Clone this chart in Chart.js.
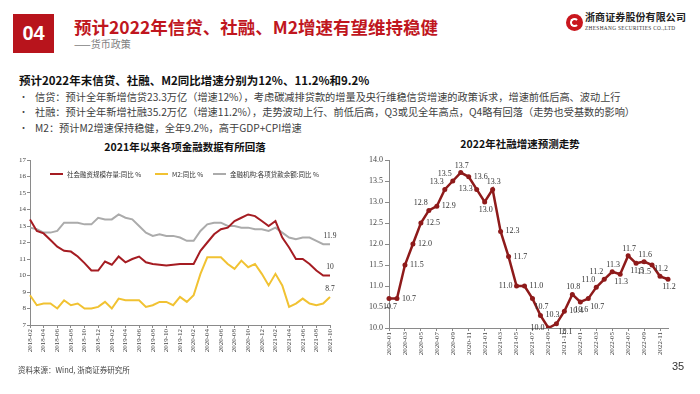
<!DOCTYPE html>
<html><head><meta charset="utf-8">
<script src="https://cdn.jsdelivr.net/npm/chart.js@4.4.0/dist/chart.umd.min.js"></script>
<style>
html,body{margin:0;padding:0;background:#fff;}
body{width:700px;height:394px;position:relative;overflow:hidden;font-family:"Noto Sans CJK SC","Noto Sans",sans-serif;}
.a{position:absolute;white-space:nowrap;}
#box{left:13px;top:14px;width:41px;height:39px;background:#b8141c;color:#fff;font:bold 20px "Liberation Sans",Arial,sans-serif;line-height:39px;text-align:center;}
#title{left:74px;top:16px;font-size:17.5px;font-weight:bold;line-height:22px;color:#c0161e;}
#sub{left:74px;top:38px;font-size:10px;line-height:12px;color:#808080;}
#logo{left:566px;top:14px;width:17px;height:17px;border-radius:50%;background:#c9171e;}
#logo i{position:absolute;left:4px;top:4px;width:5px;height:5px;border:2px solid #fff;border-radius:50%;border-right-color:transparent;}
#lt1{left:585px;top:10px;font-size:10px;font-weight:bold;line-height:14px;color:#222;letter-spacing:0.1px;}
#lt2{left:585px;top:25px;font-family:"Liberation Serif",serif;font-size:5.3px;line-height:6px;color:#333;letter-spacing:0.35px;}
#lead{left:19px;top:73px;font-size:11.5px;font-weight:bold;line-height:14px;color:#111;}
.bul{left:19px;font-size:9px;line-height:14px;color:#444;}
.bt{left:35px;font-size:10.2px;line-height:14px;color:#404040;}
.ct{width:200px;text-align:center;font-size:10.5px;font-weight:bold;line-height:14px;color:#111;}
#foot{left:18px;top:365px;font-size:7.5px;line-height:10px;color:#444;}
#pg{left:672px;top:359px;font:11px "Liberation Sans",Arial,sans-serif;line-height:14px;color:#333;}
canvas{position:absolute;}
</style></head><body>
<div class="a" id="box">04</div>
<div class="a" id="title">预计2022年信贷、社融、M2增速有望维持稳健</div>
<div class="a" id="sub">——货币政策</div>
<div class="a" id="logo"><i></i></div>
<div class="a" id="lt1">浙商证券股份有限公司</div>
<div class="a" id="lt2">ZHESHANG SECURITIES CO.,LTD</div>
<div class="a" id="lead">预计2022年末信贷、社融、M2同比增速分别为12%、11.2%和9.2%</div>
<div class="a bul" style="top:89.7px">•</div>
<div class="a bt" style="top:89.7px">信贷：预计全年新增信贷23.3万亿（增速12%），考虑碳减排贷款的增量及央行维稳信贷增速的政策诉求，增速前低后高、波动上行</div>
<div class="a bul" style="top:104.7px">•</div>
<div class="a bt" style="top:104.7px">社融：预计全年新增社融35.2万亿（增速11.2%），走势波动上行、前低后高，Q3或见全年高点，Q4略有回落（走势也受基数的影响）</div>
<div class="a bul" style="top:120.7px">•</div>
<div class="a bt" style="top:120.7px">M2：预计M2增速保持稳健，全年9.2%，高于GDP+CPI增速</div>
<div class="a ct" style="left:85px;top:139.7px">2021年以来各项金融数据有所回落</div>
<div class="a ct" style="left:420px;top:137.3px">2022年社融增速预测走势</div>
<canvas id="c1" width="350" height="215" style="left:0;top:150px"></canvas>
<canvas id="c2" width="350" height="215" style="left:350px;top:150px"></canvas>
<div class="a" id="foot">资料来源：Wind, 浙商证券研究所</div>
<div class="a" id="pg">35</div>
<script>
// ---------- Left chart data ----------
const months1 = ['2018-02','2018-03','2018-04','2018-05','2018-06','2018-07','2018-08','2018-09','2018-10','2018-11','2018-12',
 '2019-01','2019-02','2019-03','2019-04','2019-05','2019-06','2019-07','2019-08','2019-09','2019-10','2019-11','2019-12',
 '2020-01','2020-02','2020-03','2020-04','2020-05','2020-06','2020-07','2020-08','2020-09','2020-10','2020-11','2020-12',
 '2021-01','2021-02','2021-03','2021-04','2021-05','2021-06','2021-07','2021-08','2021-09','2021-10'];
const tsfYoY = [13.4,12.7,12.55,12.15,11.75,11.5,11.45,11.15,10.75,10.3,10.3,
 10.85,10.65,11.15,10.8,11.0,11.15,10.8,10.7,10.65,10.6,10.65,10.7,
 10.7,10.7,11.5,12.0,12.5,12.8,12.9,13.3,13.5,13.7,13.6,13.3,
 13.0,13.3,12.3,11.7,11.0,11.0,10.7,10.3,10.0,10.0];
const m2YoY = [8.8,8.2,8.3,8.3,8.0,8.5,8.2,8.3,8.0,8.0,8.1,
 8.4,8.0,8.6,8.5,8.5,8.5,8.1,8.2,8.4,8.4,8.2,8.7,
 8.4,8.8,10.1,11.1,11.1,11.1,10.7,10.4,10.9,10.5,10.7,10.1,
 9.4,10.1,9.4,8.1,8.3,8.6,8.3,8.2,8.3,8.7];
const loanYoY = [12.9,12.8,12.6,12.6,12.7,13.2,13.2,13.2,13.1,13.1,13.5,
 13.4,13.4,13.7,13.5,13.4,13.0,12.6,12.4,12.5,12.4,12.4,12.3,
 12.1,12.1,12.7,13.1,13.2,13.2,13.0,13.0,12.9,12.9,12.8,12.8,
 12.7,12.9,12.6,12.3,12.2,12.3,12.3,12.1,11.9,11.9];
const seriesNames1 = ['社会融资规模存量:同比 %','M2:同比 %','金融机构:各项贷款余额:同比 %'];

// ---------- Right chart data ----------
const months2 = ['2020-01','2020-02','2020-03','2020-04','2020-05','2020-06','2020-07','2020-08','2020-09','2020-10','2020-11','2020-12',
 '2021-01','2021-02','2021-03','2021-04','2021-05','2021-06','2021-07','2021-08','2021-09','2021-10','2021-11','2021-12',
 '2022-01','2022-02','2022-03','2022-04','2022-05','2022-06','2022-07','2022-08','2022-09','2022-10','2022-11','2022-12'];
const tsfForecast = [10.7,10.7,11.5,12.0,12.5,12.8,12.9,13.3,13.5,13.7,13.6,13.3,
 13.0,13.3,12.3,11.7,11.0,11.0,10.7,10.3,10.0,10.1,10.4,10.8,
 10.62,10.7,10.97,11.16,11.34,11.28,11.72,11.54,11.58,11.5,11.23,11.16];
// label placement codes (style only)
const labelPlace2 = ['b','r','r','r','r','tl','r','tl','tl','t','r','l',
 'b','t','r','r','l','r','br','r','l','br','r','t',
 'b','br','tl','tl','t','b','t','b','t','bl','t','b'];

const SERIF = '"Liberation Serif","Times New Roman",serif';

const inlineLegend = {
  id:'inlineLegend',
  afterDraw(chart, args, opts){
    const ctx = chart.ctx;
    ctx.save();
    ctx.font = '6.5px "Noto Sans CJK SC",sans-serif';
    ctx.textBaseline = 'middle';
    ctx.textAlign = 'left';
    chart.data.datasets.forEach((ds, i) => {
      const x = opts.xs[i], y = opts.y;
      ctx.strokeStyle = ds.borderColor; ctx.lineWidth = 2;
      ctx.beginPath(); ctx.moveTo(x, y); ctx.lineTo(x + 13, y); ctx.stroke();
      ctx.fillStyle = '#333';
      ctx.fillText(ds.label, x + 17, y + 0.5);
    });
    ctx.restore();
  }
};

const endLabels = {
  id:'endLabels',
  afterDatasetsDraw(chart){
    const ctx = chart.ctx;
    ctx.save();
    ctx.font = '7.5px ' + SERIF;
    ctx.fillStyle = '#333';
    ctx.textAlign = 'center';
    ctx.textBaseline = 'middle';
    chart.data.datasets.forEach((ds, i) => {
      const meta = chart.getDatasetMeta(i);
      const last = meta.data[meta.data.length - 1];
      const v = ds.data[ds.data.length - 1];
      ctx.fillText(String(v), last.x, last.y - 8);
    });
    ctx.restore();
  }
};

const pointLabels = {
  id:'pointLabels',
  afterDatasetsDraw(chart, args, opts){
    const ctx = chart.ctx;
    const meta = chart.getDatasetMeta(0);
    const ds = chart.data.datasets[0];
    const place = {
      t:['center',1,-7], b:['center',1,8], r:['left',5,0], l:['right',-4,0],
      tl:['right',-1,-7], br:['left',2,8], bl:['right',-1,7]
    };
    ctx.save();
    ctx.font = '8px ' + SERIF;
    ctx.fillStyle = '#333';
    ctx.textBaseline = 'middle';
    meta.data.forEach((pt, i) => {
      const p = place[opts.codes[i]] || place.t;
      ctx.textAlign = p[0];
      ctx.fillText(Number(ds.data[i]).toFixed(1), pt.x + p[1], pt.y + p[2]);
    });
    ctx.restore();
  }
};

const axisGrey = '#8a8a8a';
const everyOther = s => { s.ticks = s.ticks.filter((t, i) => i % 2 === 0); };

new Chart(document.getElementById('c1'), {
  type:'line',
  data:{
    labels:months1,
    datasets:[
      {label:seriesNames1[0], data:tsfYoY, borderColor:'#a51c22', borderWidth:2, pointRadius:0, tension:0, fill:false},
      {label:seriesNames1[1], data:m2YoY, borderColor:'#f1c232', borderWidth:2, pointRadius:0, tension:0, fill:false},
      {label:seriesNames1[2], data:loanYoY, borderColor:'#ababab', borderWidth:2, pointRadius:0, tension:0, fill:false}
    ]
  },
  options:{
    responsive:false, animation:false, devicePixelRatio:1,
    layout:{padding:{left:0, top:10, right:20, bottom:0}},
    plugins:{legend:{display:false}, tooltip:{enabled:false}, title:{display:false},
      inlineLegend:{xs:[50,155,213], y:24}},
    scales:{
      x:{
        offset:false,
        grid:{display:true, drawOnChartArea:false, tickLength:3, color:axisGrey},
        border:{display:true, color:axisGrey},
        ticks:{autoSkip:false, maxRotation:90, minRotation:90, padding:1, color:'#444', font:{family:SERIF, size:7}},
        afterBuildTicks:everyOther,
        afterFit:s => { s.height = 40; }
      },
      y:{
        min:7, max:17,
        grid:{display:true, drawOnChartArea:false, tickLength:3, color:axisGrey},
        border:{display:true, color:axisGrey},
        ticks:{stepSize:1, padding:1, color:'#444', font:{family:SERIF, size:7}},
        afterFit:s => { s.width = 30; }
      }
    }
  },
  plugins:[inlineLegend, endLabels]
});

new Chart(document.getElementById('c2'), {
  type:'line',
  data:{
    labels:months2,
    datasets:[
      {label:'社融存量同比', data:tsfForecast, borderColor:'#8e1a1a', borderWidth:2.5, pointRadius:2.5,
       pointBackgroundColor:'#8e1a1a', pointBorderWidth:0, tension:0, fill:false}
    ]
  },
  options:{
    responsive:false, animation:false, devicePixelRatio:1,
    layout:{padding:{left:0, top:10, right:32, bottom:0}},
    plugins:{legend:{display:false}, tooltip:{enabled:false}, title:{display:false},
      pointLabels:{codes:labelPlace2}},
    scales:{
      x:{
        offset:false,
        grid:{display:true, drawOnChartArea:false, tickLength:3, color:axisGrey},
        border:{display:true, color:axisGrey},
        ticks:{autoSkip:false, maxRotation:90, minRotation:90, padding:1, color:'#444', font:{family:SERIF, size:7}},
        afterBuildTicks:everyOther,
        afterFit:s => { s.height = 37; }
      },
      y:{
        min:10, max:14,
        grid:{display:true, drawOnChartArea:false, tickLength:4, color:axisGrey},
        border:{display:true, color:axisGrey},
        ticks:{stepSize:0.5, padding:2, color:'#444', font:{family:SERIF, size:8}, callback:v => Number(v).toFixed(1)},
        afterFit:s => { s.width = 39; }
      }
    }
  },
  plugins:[pointLabels]
});
</script>
</body></html>
